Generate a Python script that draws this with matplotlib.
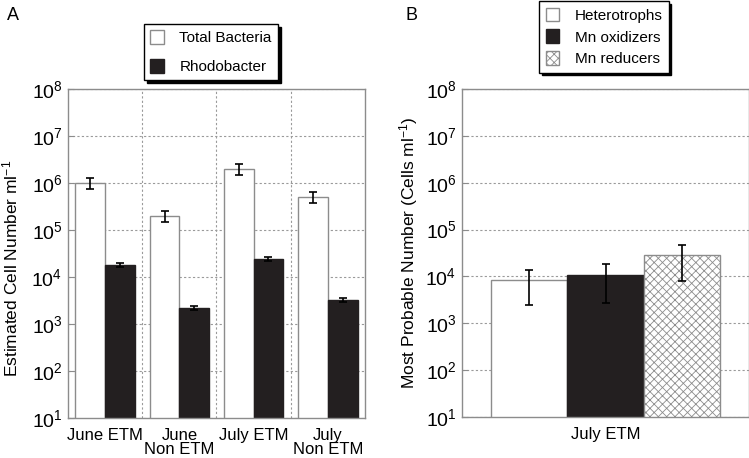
import matplotlib.pyplot as plt
from matplotlib.patches import Patch
import numpy as np

plt.rcParams['font.family'] = ['Liberation Sans', 'DejaVu Sans']
plt.rcParams['mathtext.fontset'] = 'custom'
plt.rcParams['mathtext.rm'] = 'Liberation Sans'
plt.rcParams['mathtext.it'] = 'Liberation Sans:italic'
plt.rcParams['mathtext.bf'] = 'Liberation Sans:bold'
plt.rcParams['hatch.color'] = '#8a8a8a'
plt.rcParams['hatch.linewidth'] = 0.6

# panel A data
sites = ["June ETM", "June\nNon ETM", "July ETM", "July\nNon ETM"]
total_bacteria = [1.0e6, 2.0e5, 2.0e6, 5.0e5]
total_err = [2.5e5, 5.0e4, 5.0e5, 1.3e5]
rhodobacter = [1.8e4, 2.2e3, 2.4e4, 3.2e3]
rhodo_err = [2.0e3, 2.0e2, 2.5e3, 3.0e2]

# panel B data
mpn_site = ["July ETM"]
mpn_groups = ["Heterotrophs", "Mn oxidizers", "Mn reducers"]
mpn_vals = [8.2e3, 1.07e4, 2.8e4]
mpn_err = [5.7e3, 8.0e3, 2.0e4]

GRAY = '#8c8c8c'
DARK = '#231f20'
FS = 11

fig = plt.figure(figsize=(7.49, 4.58), dpi=100)

def style_axis(ax):
    ax.set_yscale('log')
    ax.set_ylim(10, 1e8)
    ax.set_yticks([10.0**k for k in range(1, 9)])
    ax.set_yticklabels([r'$\mathregular{10^{%d}}$' % k for k in range(1, 9)], fontsize=FS + 3)
    ax.yaxis.set_minor_locator(plt.NullLocator())
    for s in ax.spines.values():
        s.set_color(GRAY)
        s.set_linewidth(1.0)
    ax.tick_params(axis='y', direction='in', length=4, color=GRAY, pad=4)
    ax.tick_params(axis='x', length=0, labelsize=FS + 1, pad=7)
    ax.yaxis.grid(True, linestyle=(0, (2, 2)), color='#9a9a9a', linewidth=0.8)
    ax.set_axisbelow(True)

# ---- Panel A ----
axA = fig.add_axes([68/749, 40/458, 297/749, 329/458])
style_axis(axA)
x = np.arange(len(sites))
w = 0.4
axA.bar(x - w/2, total_bacteria, w, color='white', edgecolor=GRAY, linewidth=1.0,
        yerr=total_err, capsize=3, error_kw=dict(ecolor='black', elinewidth=1.2, capthick=1.2))
axA.bar(x + w/2, rhodobacter, w, color=DARK, edgecolor=DARK, linewidth=1.0,
        yerr=rhodo_err, capsize=3, error_kw=dict(ecolor='black', elinewidth=1.2, capthick=1.2))
axA.set_xlim(-0.5, len(sites) - 0.5)
axA.set_xticks(x)
axA.set_xticklabels(sites, linespacing=0.95)
axA.set_xticks(x[:-1] + 0.5, minor=True)
axA.xaxis.grid(True, which='minor', linestyle=(0, (2, 2)), color='#9a9a9a', linewidth=0.8)
axA.tick_params(axis='x', which='minor', length=0)
axA.set_ylabel(r'Estimated Cell Number ml$^{\mathregular{-1}}$', fontsize=FS + 1.5)
axA.yaxis.set_label_coords(-0.16, 0.455)

legA = fig.legend(handles=[Patch(facecolor='white', edgecolor=GRAY, label='Total Bacteria'),
                           Patch(facecolor=DARK, edgecolor=DARK, label='Rhodobacter')],
                  loc='center', bbox_to_anchor=(211/749, 1 - 52/458), fontsize=FS,
                  frameon=True, fancybox=False, shadow={'color': 'black', 'alpha': 1},
                  edgecolor='black', handlelength=0.9, handleheight=1.0,
                  labelspacing=0.9, borderpad=0.4, handletextpad=1.0)
legA.get_frame().set_linewidth(1.0)

# ---- Panel B ----
axB = fig.add_axes([462/749, 41/458, 287/749, 328/458])
style_axis(axB)
bw = 0.267
offsets = [-bw, 0, bw]
faces = ['white', DARK, 'white']
edges = [GRAY, DARK, GRAY]
hatches = [None, None, 'xxxx']
handles = []
for i in range(3):
    axB.bar(offsets[i], mpn_vals[i], bw, color=faces[i], edgecolor=edges[i], hatch=hatches[i],
            linewidth=1.0, yerr=mpn_err[i], capsize=3,
            error_kw=dict(ecolor='black', elinewidth=1.2, capthick=1.2))
    handles.append(Patch(facecolor=faces[i], edgecolor=edges[i], hatch=hatches[i], label=mpn_groups[i]))
axB.set_xlim(-0.5, 0.5)
axB.set_xticks([0])
axB.set_xticklabels(mpn_site)
axB.set_ylabel(r'Most Probable Number (Cells ml$^{\mathregular{-1}}$)', fontsize=FS + 1.5, labelpad=4)

legB = fig.legend(handles=handles, loc='center', bbox_to_anchor=(604/749, 1 - 37/458), fontsize=FS,
                  frameon=True, fancybox=False, shadow={'color': 'black', 'alpha': 1},
                  edgecolor='black', handlelength=0.9, handleheight=1.0,
                  labelspacing=0.45, borderpad=0.4, handletextpad=1.0)
legB.get_frame().set_linewidth(1.0)

fig.text(7/749, 1 - 15/458, 'A', fontsize=FS + 2, va='center', ha='left')
fig.text(405/749, 1 - 15/458, 'B', fontsize=FS + 2, va='center', ha='left')

fig.savefig('out.png', dpi=100)
